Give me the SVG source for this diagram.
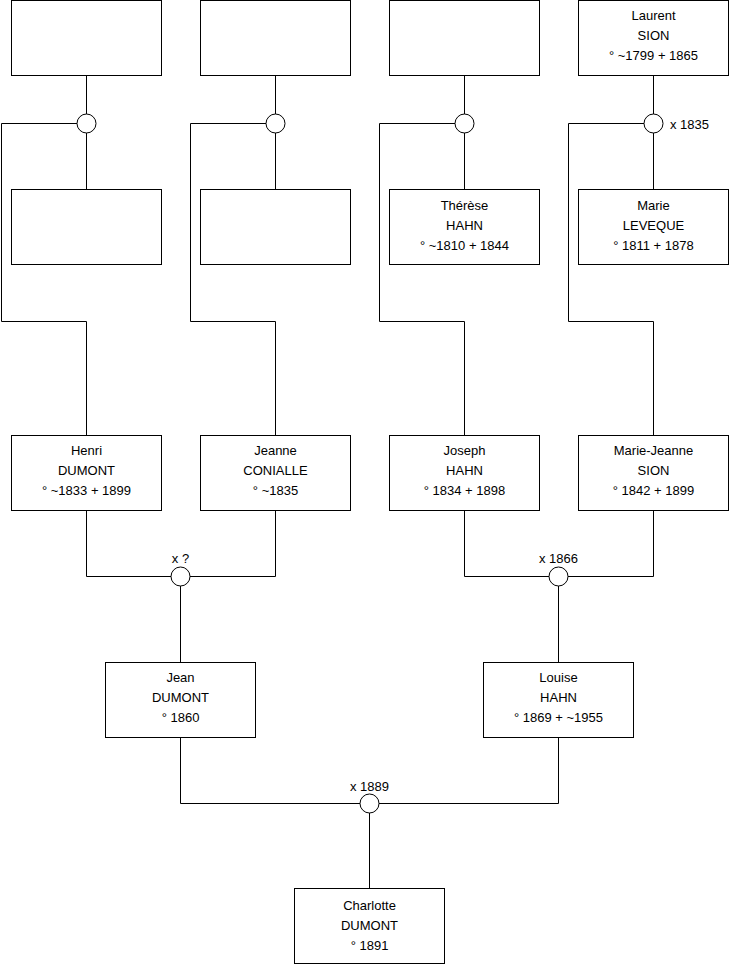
<svg xmlns="http://www.w3.org/2000/svg" width="740" height="975" viewBox="0 0 740 975">
<style>
.box{fill:#fff;stroke:#000;stroke-width:1}
.ln{fill:none;stroke:#000;stroke-width:1}
.ring{fill:#fff;stroke:#000;stroke-width:1}
text{font-family:"Liberation Sans",Arial,sans-serif;font-size:13px;fill:#000;text-anchor:middle}
</style>
<rect width="740" height="975" fill="#fff"/>
<g id="connectors">
<path class="ln" d="M86.5 75.5V190"/>
<path class="ln" d="M275.5 75.5V190"/>
<path class="ln" d="M464.5 75.5V190"/>
<path class="ln" d="M653.5 75.5V190"/>
<path class="ln" d="M77 123.5H1.5V321.5H86.5V435.5"/>
<path class="ln" d="M266 123.5H190.5V321.5H275.5V435.5"/>
<path class="ln" d="M455 123.5H379.5V321.5H464.5V435.5"/>
<path class="ln" d="M644 123.5H568.5V321.5H653.5V435.5"/>
<path class="ln" d="M86.5 510.5V576.5H275.5V510.5"/>
<path class="ln" d="M180.5 576.5V662.5"/>
<path class="ln" d="M464.5 510.5V576.5H653.5V510.5"/>
<path class="ln" d="M558.5 576.5V662.5"/>
<path class="ln" d="M180.5 737.5V803.5H558.5V737.5"/>
<path class="ln" d="M369.5 803.5V888.5"/>
</g>
<g id="union1"><circle class="ring" cx="86.5" cy="123.5" r="9.5"/></g>
<g id="union2"><circle class="ring" cx="275.5" cy="123.5" r="9.5"/></g>
<g id="union3"><circle class="ring" cx="464.5" cy="123.5" r="9.5"/></g>
<g id="union4"><circle class="ring" cx="653.5" cy="123.5" r="9.5"/><text x="670" y="128.5" style="text-anchor:start">x 1835</text></g>
<g id="union5"><circle class="ring" cx="180.5" cy="576.5" r="9.5"/><text x="180.5" y="562.5">x ?</text></g>
<g id="union6"><circle class="ring" cx="558.5" cy="576.5" r="9.5"/><text x="558.5" y="562.5">x 1866</text></g>
<g id="union7"><circle class="ring" cx="369.5" cy="803.5" r="9.5"/><text x="369.5" y="790.5">x 1889</text></g>

<g id="p1"><rect class="box" x="11.5" y="0.5" width="150" height="75"/></g>
<g id="p2"><rect class="box" x="200.5" y="0.5" width="150" height="75"/></g>
<g id="p3"><rect class="box" x="389.5" y="0.5" width="150" height="75"/></g>
<g id="laurent"><rect class="box" x="578.5" y="0.5" width="150" height="75"/>
<text x="653.5" y="20">Laurent</text><text x="653.5" y="40">SION</text><text x="653.5" y="60">° ~1799 + 1865</text></g>

<g id="p5"><rect class="box" x="11.5" y="189.5" width="150" height="75"/></g>
<g id="p6"><rect class="box" x="200.5" y="189.5" width="150" height="75"/></g>
<g id="therese"><rect class="box" x="389.5" y="189.5" width="150" height="75"/>
<text x="464.5" y="209.5">Thérèse</text><text x="464.5" y="229.5">HAHN</text><text x="464.5" y="249.5">° ~1810 + 1844</text></g>
<g id="marie"><rect class="box" x="578.5" y="189.5" width="150" height="75"/>
<text x="653.5" y="209.5">Marie</text><text x="653.5" y="229.5">LEVEQUE</text><text x="653.5" y="249.5">° 1811 + 1878</text></g>

<g id="henri"><rect class="box" x="11.5" y="435.5" width="150" height="75"/>
<text x="86.5" y="455">Henri</text><text x="86.5" y="475">DUMONT</text><text x="86.5" y="495">° ~1833 + 1899</text></g>
<g id="jeanne"><rect class="box" x="200.5" y="435.5" width="150" height="75"/>
<text x="275.5" y="455">Jeanne</text><text x="275.5" y="475">CONIALLE</text><text x="275.5" y="495">° ~1835</text></g>
<g id="joseph"><rect class="box" x="389.5" y="435.5" width="150" height="75"/>
<text x="464.5" y="455">Joseph</text><text x="464.5" y="475">HAHN</text><text x="464.5" y="495">° 1834 + 1898</text></g>
<g id="mariejeanne"><rect class="box" x="578.5" y="435.5" width="150" height="75"/>
<text x="653.5" y="455">Marie-Jeanne</text><text x="653.5" y="475">SION</text><text x="653.5" y="495">° 1842 + 1899</text></g>

<g id="jean"><rect class="box" x="105.5" y="662.5" width="150" height="75"/>
<text x="180.5" y="682">Jean</text><text x="180.5" y="702">DUMONT</text><text x="180.5" y="722">° 1860</text></g>
<g id="louise"><rect class="box" x="483.5" y="662.5" width="150" height="75"/>
<text x="558.5" y="682">Louise</text><text x="558.5" y="702">HAHN</text><text x="558.5" y="722">° 1869 + ~1955</text></g>

<g id="charlotte"><rect class="box" x="294.5" y="888.5" width="150" height="75"/>
<text x="369.5" y="910">Charlotte</text><text x="369.5" y="930">DUMONT</text><text x="369.5" y="950">° 1891</text></g>
</svg>
